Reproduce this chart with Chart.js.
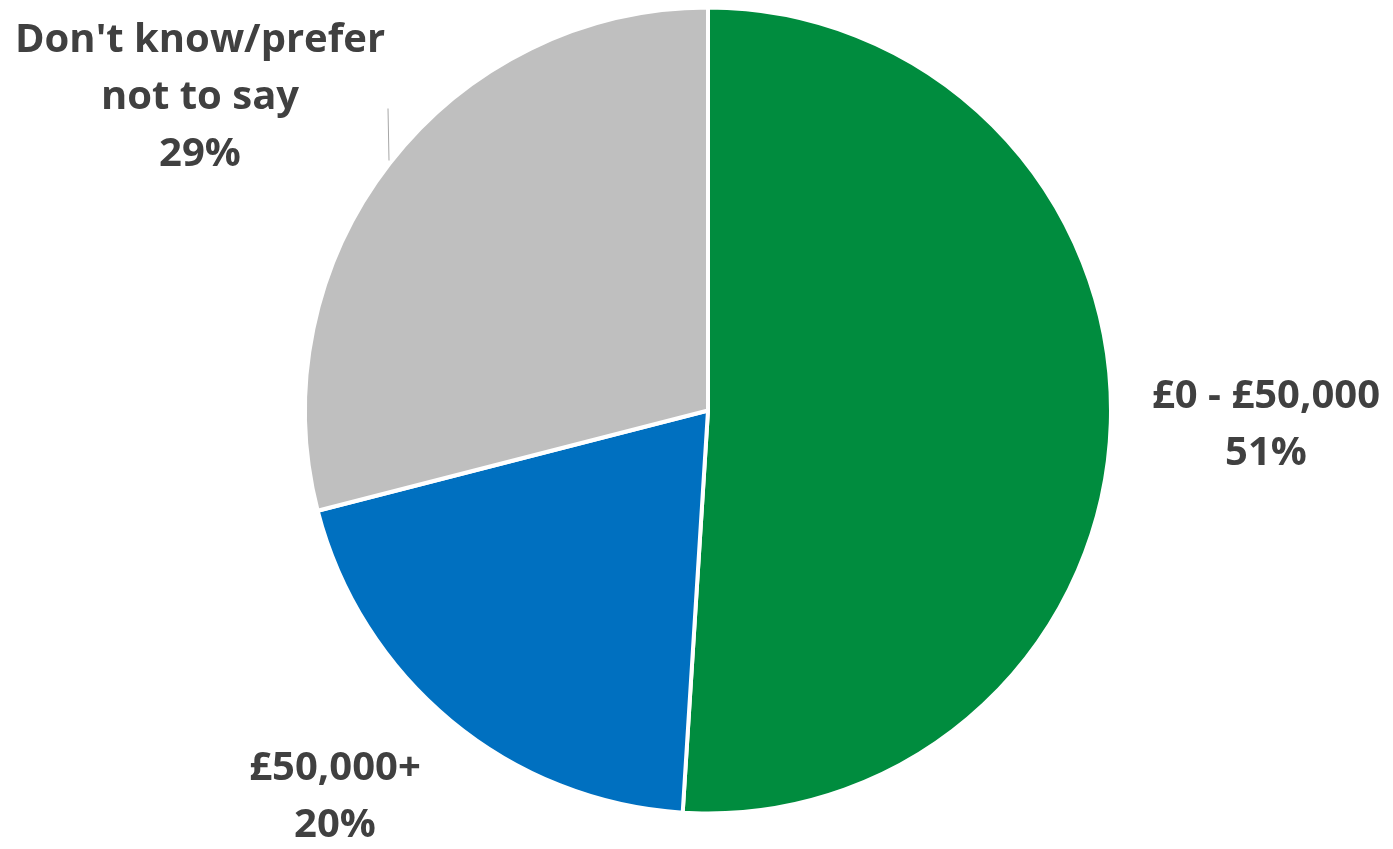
<!DOCTYPE html>
<html>
<head>
<meta charset="utf-8">
<script src="https://cdn.jsdelivr.net/npm/chart.js@4/dist/chart.umd.min.js"></script>
<style>
  html, body { margin: 0; padding: 0; background: #fff; }
  #wrap { width: 1393px; height: 849px; position: relative; }
</style>
</head>
<body>
<div id="wrap"><canvas id="incomeChart"></canvas></div>
<script>
const categories = ['£0 - £50,000', '£50,000+', "Don't know/prefer not to say"];
const shares = [51, 20, 29];
const labelLines = [['£0 - £50,000'], ['£50,000+'], ["Don't know/prefer", 'not to say']];
const sliceColours = ['#008C3E', '#0070C0', '#BFBFBF'];

// where each label sits, relative to the pie centre
const labelOffsets = [[558, 15], [-373, 387], [-508, -313]];

const outsideLabels = {
  id: 'outsideLabels',
  afterDatasetsDraw(chart) {
    const ctx = chart.ctx;
    const arcs = chart.getDatasetMeta(0).data;
    const cx = arcs[0].x, cy = arcs[0].y;
    ctx.save();
    ctx.font = "bold 40px 'Open Sans', Lato, sans-serif";
    ctx.fillStyle = '#404040';
    ctx.textAlign = 'center';
    ctx.textBaseline = 'middle';
    const lineH = 57;
    shares.forEach((v, i) => {
      const lines = labelLines[i].concat([v + '%']);
      const x = cx + labelOffsets[i][0];
      const top = cy + labelOffsets[i][1] - (lines.length - 1) * lineH / 2;
      lines.forEach((t, j) => ctx.fillText(t, x, top + j * lineH));
    });
    // leader line for the grey slice
    ctx.strokeStyle = '#A6A6A6';
    ctx.lineWidth = 1;
    ctx.beginPath();
    ctx.moveTo(cx - 320, cy - 302);
    ctx.lineTo(cx - 319, cy - 250);
    ctx.stroke();
    ctx.restore();
  }
};

new Chart(document.getElementById('incomeChart'), {
  type: 'pie',
  data: {
    labels: categories,
    datasets: [{
      data: shares,
      backgroundColor: sliceColours,
      borderColor: '#ffffff',
      borderWidth: 4
    }]
  },
  options: {
    responsive: true,
    maintainAspectRatio: false,
    animation: false,
    layout: { padding: { top: 5, bottom: 33, left: 303, right: 280 } },
    plugins: { legend: { display: false }, tooltip: { enabled: false } }
  },
  plugins: [outsideLabels]
});
</script>
</body>
</html>
